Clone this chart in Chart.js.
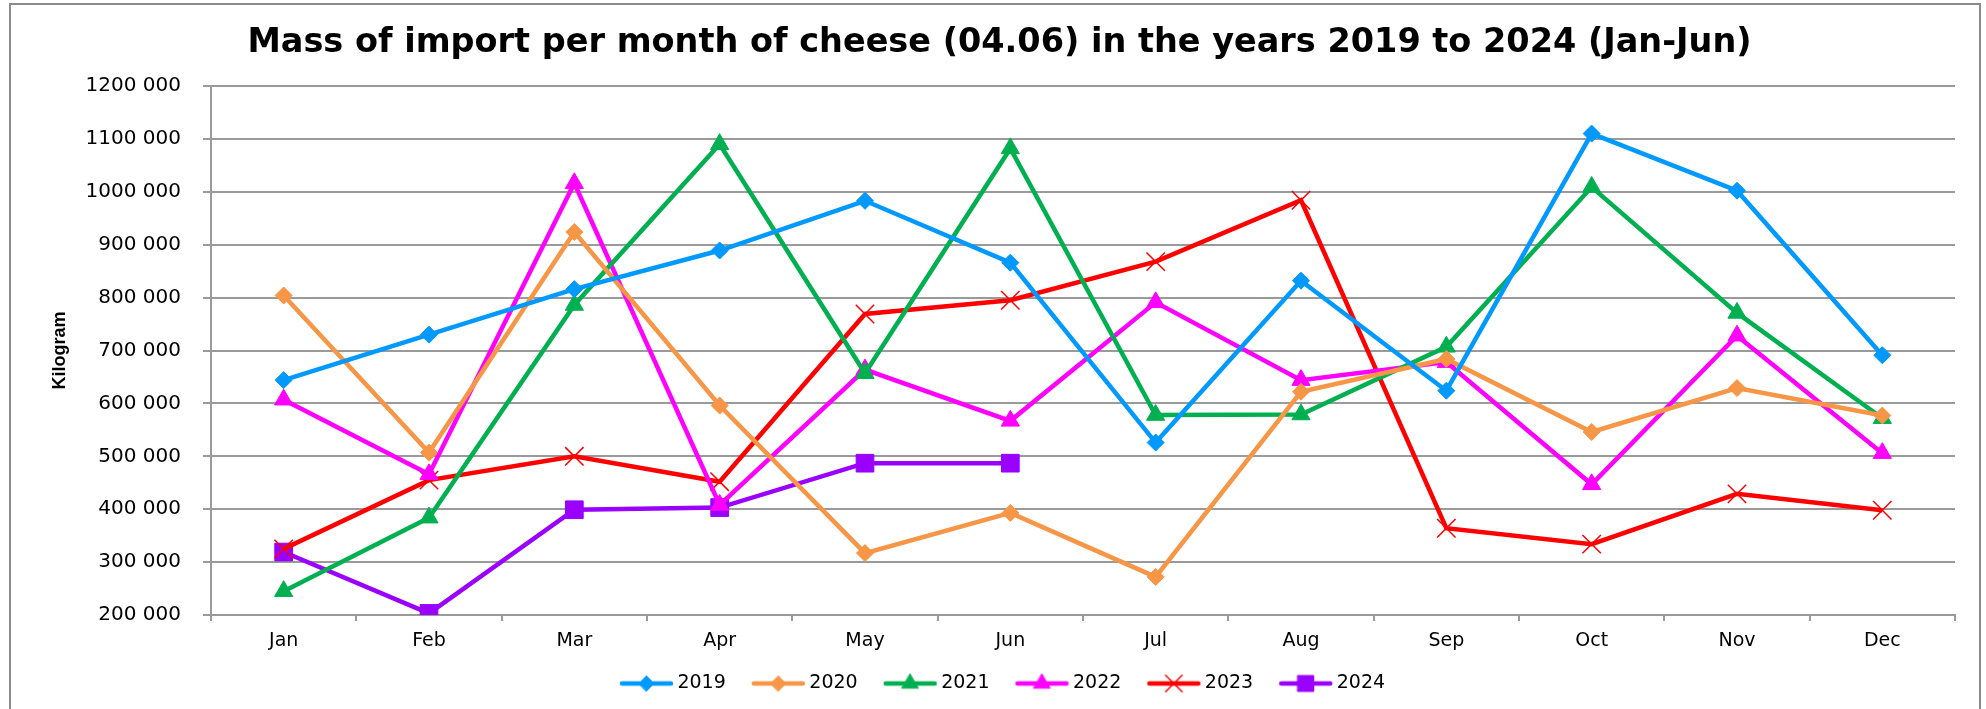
<!DOCTYPE html>
<html>
<head>
<meta charset="utf-8">
<title>Cheese import 2019-2024</title>
<script src="https://cdn.jsdelivr.net/npm/chart.js@4.4.1/dist/chart.umd.min.js"></script>
<style>
  html, body { margin: 0; padding: 0; background: #fff; }
  #wrap { width: 1986px; height: 709px; }
</style>
</head>
<body>
<div id="wrap"><canvas id="chart" width="1986" height="709"></canvas></div>
<script>
(function () {
  const MONTHS = ["Jan", "Feb", "Mar", "Apr", "May", "Jun", "Jul", "Aug", "Sep", "Oct", "Nov", "Dec"];
  const YEARS = ["2019", "2020", "2021", "2022", "2023", "2024"];

  // kilogram per month
  const KG_2019 = [644000, 730000, 816000, 889000, 983000, 866000, 526000, 832000, 624000, 1110000, 1002000, 691000];
  const KG_2020 = [804000, 507000, 924000, 596000, 317000, 393000, 272000, 622000, 684000, 546000, 629000, 577000];
  const KG_2021 = [245000, 384000, 786000, 1090000, 657000, 1082000, 578000, 579000, 707000, 1009000, 771000, 572000];
  const KG_2022 = [607000, 466000, 1016000, 408000, 664000, 567000, 791000, 644000, 678000, 447000, 728000, 506000];
  const KG_2023 = [325000, 455000, 500000, 452000, 769000, 795000, 868000, 984000, 364000, 334000, 429000, 398000];
  const KG_2024 = [319000, 203000, 399000, 403000, 487000, 487000, null, null, null, null, null, null];

  const Y_MIN = 200000;
  const Y_MAX = 1200000;
  const Y_STEP = 100000;

  const VALUES = [KG_2019, KG_2020, KG_2021, KG_2022, KG_2023, KG_2024];
  const STYLES = [
    { color: "#0099FF", marker: "rectRot", radius: 8.5, border: 1 },
    { color: "#F79646", marker: "rectRot", radius: 8.5, border: 1 },
    { color: "#00B050", marker: "triangle", radius: 10.5, border: 1 },
    { color: "#FF00FF", marker: "triangle", radius: 10.5, border: 1 },
    { color: "#FF0000", marker: "crossRot", radius: 13, border: 1.5 },
    { color: "#9900FF", marker: "rect", radius: 12.5, border: 1 },
  ];

  const FONT = "'DejaVu Sans', sans-serif";
  const GRID = "#9a9a9a";

  function fmt(v) {
    const thousands = Math.floor(v / 1000);
    const rest = String(v % 1000).padStart(3, "0");
    return thousands + " " + rest;
  }

  // line + marker swatch for the legend, drawn toward the right of a wider
  // canvas so it sits close to its label
  function legendIcon(st) {
    const c = document.createElement("canvas");
    c.width = 66;
    c.height = 26;
    const ctx = c.getContext("2d");
    ctx.strokeStyle = st.color;
    ctx.fillStyle = st.color;
    ctx.lineCap = "round";
    ctx.lineWidth = 4.5;
    ctx.beginPath();
    ctx.moveTo(14, 13);
    ctx.lineTo(63, 13);
    ctx.stroke();
    ctx.lineWidth = st.border;
    Chart.helpers.drawPoint(
      ctx,
      { pointStyle: st.marker, radius: st.radius * 0.9, borderWidth: st.border, rotation: 0 },
      38.5,
      13,
    );
    return c;
  }
  const ICONS = STYLES.map(legendIcon);

  const datasets = YEARS.map((year, i) => ({
    label: year,
    data: VALUES[i],
    borderColor: STYLES[i].color,
    backgroundColor: STYLES[i].color,
    borderWidth: 4.5,
    tension: 0,
    pointStyle: STYLES[i].marker,
    pointRadius: STYLES[i].radius,
    pointHoverRadius: STYLES[i].radius,
    pointBackgroundColor: STYLES[i].color,
    pointBorderColor: STYLES[i].color,
    pointBorderWidth: STYLES[i].border,
  }));

  const framePlugin = {
    id: "frame",
    beforeDraw(chart) {
      const ctx = chart.ctx;
      ctx.save();
      ctx.fillStyle = "#fff";
      ctx.fillRect(0, 0, chart.width, chart.height);
      ctx.strokeStyle = "#8c8c8c";
      ctx.lineWidth = 2;
      ctx.strokeRect(10, 4, 1970, 720);
      ctx.restore();
    },
  };

  new Chart(document.getElementById("chart"), {
    type: "line",
    data: { labels: MONTHS, datasets },
    plugins: [framePlugin],
    options: {
      responsive: false,
      animation: false,
      layout: { padding: { left: 44, right: 31, top: 4, bottom: 6 } },
      plugins: {
        title: {
          display: true,
          text: "Mass of import per month of cheese (04.06) in the years 2019 to 2024 (Jan-Jun)",
          color: "#000",
          font: { family: FONT, size: 33.5, weight: "bold" },
          padding: { top: 19.5, bottom: 22.3 },
        },
        legend: {
          position: "bottom",
          labels: {
            usePointStyle: true,
            pointStyleWidth: 54,
            padding: 20,
            color: "#000",
            font: { family: FONT, size: 19 },
            generateLabels: (chart) =>
              chart.data.datasets.map((ds, i) => ({
                text: ds.label,
                pointStyle: ICONS[i],
                fillStyle: ds.borderColor,
                strokeStyle: ds.borderColor,
                lineWidth: 0,
                hidden: false,
                datasetIndex: i,
                fontColor: "#000",
              })),
          },
        },
        tooltip: { enabled: false },
      },
      scales: {
        x: {
          offset: true,
          afterFit: (scale) => {
            scale.height = 39;
          },
          grid: { offset: true, drawOnChartArea: false, tickLength: 6, color: GRID, lineWidth: 2 },
          border: { color: GRID, width: 2 },
          ticks: { color: "#000", padding: 9, font: { family: FONT, size: 19 } },
        },
        y: {
          min: Y_MIN,
          max: Y_MAX,
          afterFit: (scale) => {
            scale.width = 167;
          },
          title: {
            display: true,
            text: "Kilogram",
            color: "#000",
            font: { family: "'Liberation Sans', sans-serif", size: 18, weight: "bold" },
            padding: { top: 5.5, bottom: 0 },
          },
          grid: { color: GRID, lineWidth: 2, tickLength: 8 },
          border: { color: GRID, width: 2 },
          ticks: {
            stepSize: Y_STEP,
            padding: 22,
            color: "#000",
            font: { family: FONT, size: 20 },
            callback: (v) => fmt(v),
          },
        },
      },
    },
  });
})();
</script>
</body>
</html>
